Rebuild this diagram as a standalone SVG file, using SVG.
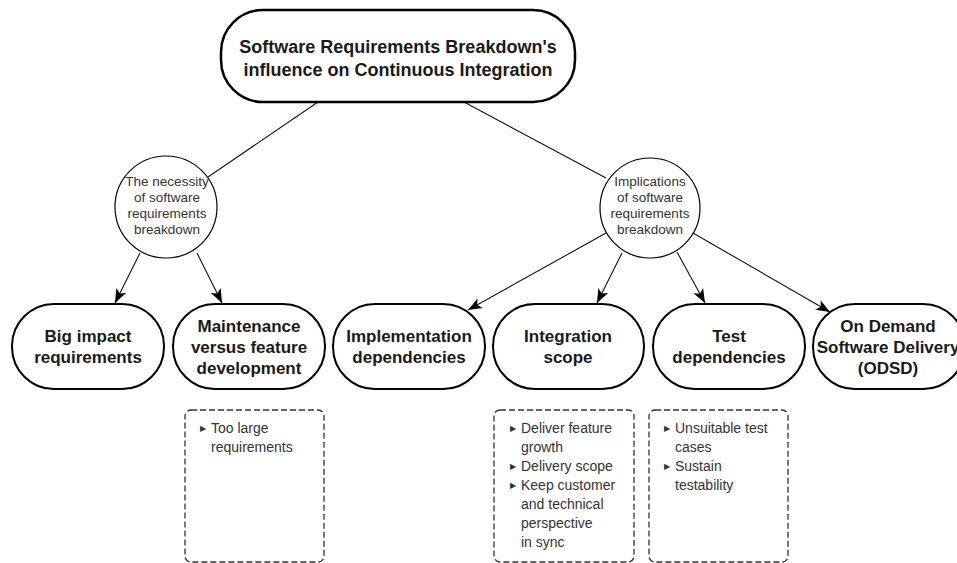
<svg xmlns="http://www.w3.org/2000/svg" width="957" height="563" viewBox="0 0 957 563">
<defs>
<style>
.root{fill:#fff;stroke:#000;stroke-width:2.5}
.node{fill:#fff;stroke:#000;stroke-width:2}
.circ{fill:#fff;stroke:#000;stroke-width:1.2}
.note{fill:#fff;stroke:#333;stroke-width:1.3;stroke-dasharray:6 3}
.edge{fill:none;stroke:#111;stroke-width:1.1}
.tt{font-family:"Liberation Sans",Arial,sans-serif;font-weight:bold;font-size:18px;fill:#1a1a1a;text-anchor:middle}
.nt{font-family:"Liberation Sans",Arial,sans-serif;font-weight:bold;font-size:17px;fill:#1a1a1a;text-anchor:middle}
.ct{font-family:"Liberation Sans",Arial,sans-serif;font-size:13.5px;fill:#333;text-anchor:middle}
.lt{font-family:"Liberation Sans",Arial,sans-serif;font-size:14px;fill:#333}
.bu{font-family:"DejaVu Sans",sans-serif;font-size:8px;fill:#333}
</style>
<marker id="arr" markerUnits="userSpaceOnUse" markerWidth="15" markerHeight="12" refX="14" refY="5.5" orient="auto" overflow="visible">
<path d="M0,0 L14,5.5 L0,11 L3.5,5.5 Z" fill="#000"/>
</marker>
</defs>
<rect width="957" height="563" fill="#fff"/>
<g id="connectors">
<line class="edge" x1="318" y1="102" x2="208" y2="177"/>
<line class="edge" x1="464" y1="102" x2="606" y2="178"/>
<line class="edge" x1="140" y1="253" x2="115" y2="303" marker-end="url(#arr)"/>
<line class="edge" x1="197" y1="253" x2="222" y2="303" marker-end="url(#arr)"/>
<line class="edge" x1="606" y1="233" x2="468" y2="310" marker-end="url(#arr)"/>
<line class="edge" x1="622" y1="253" x2="597" y2="303" marker-end="url(#arr)"/>
<line class="edge" x1="677" y1="252" x2="705" y2="303" marker-end="url(#arr)"/>
<line class="edge" x1="693" y1="233" x2="830" y2="312" marker-end="url(#arr)"/>
</g>
<g id="root">
<rect class="root" x="221" y="10" width="354" height="92" rx="42" ry="42"/>
<text class="tt" x="398" y="53">Software Requirements Breakdown's</text>
<text class="tt" x="398" y="76">influence on Continuous Integration</text>
</g>
<g id="necessity">
<circle class="circ" cx="166" cy="207" r="51"/>
<text class="ct" x="167" y="186">The necessity</text>
<text class="ct" x="167" y="202">of software</text>
<text class="ct" x="167" y="218">requirements</text>
<text class="ct" x="167" y="234">breakdown</text>
</g>
<g id="implications">
<circle class="circ" cx="650" cy="208" r="50"/>
<text class="ct" x="650" y="186">Implications</text>
<text class="ct" x="650" y="202">of software</text>
<text class="ct" x="650" y="218">requirements</text>
<text class="ct" x="650" y="234">breakdown</text>
</g>
<g id="big-impact">
<rect class="node" x="12" y="304" width="152" height="85" rx="42" ry="42"/>
<text class="nt" x="88" y="342">Big impact</text>
<text class="nt" x="88" y="363">requirements</text>
</g>
<g id="maintenance">
<rect class="node" x="173" y="304" width="152" height="85" rx="42" ry="42"/>
<text class="nt" x="249" y="332">Maintenance</text>
<text class="nt" x="249" y="353">versus feature</text>
<text class="nt" x="249" y="374">development</text>
</g>
<g id="implementation">
<rect class="node" x="333" y="304" width="152" height="85" rx="42" ry="42"/>
<text class="nt" x="409" y="342">Implementation</text>
<text class="nt" x="409" y="363">dependencies</text>
</g>
<g id="integration">
<rect class="node" x="493" y="304" width="151" height="85" rx="42" ry="42"/>
<text class="nt" x="568" y="342">Integration</text>
<text class="nt" x="568" y="363">scope</text>
</g>
<g id="test">
<rect class="node" x="653" y="304" width="152" height="85" rx="42" ry="42"/>
<text class="nt" x="729" y="342">Test</text>
<text class="nt" x="729" y="363">dependencies</text>
</g>
<g id="odsd">
<rect class="node" x="813" y="304" width="152" height="85" rx="42" ry="42"/>
<text class="nt" x="888" y="332">On Demand</text>
<text class="nt" x="888" y="353">Software Delivery</text>
<text class="nt" x="888" y="374">(ODSD)</text>
</g>
<g id="note-maintenance">
<rect class="note" x="185" y="410" width="139" height="152" rx="6" ry="6"/>
<text class="bu" x="200" y="431">▶</text>
<text class="lt" x="211" y="433">Too large</text>
<text class="lt" x="211" y="452">requirements</text>
</g>
<g id="note-integration">
<rect class="note" x="494" y="410" width="140" height="152" rx="6" ry="6"/>
<text class="bu" x="510" y="431">▶</text>
<text class="lt" x="521" y="433">Deliver feature</text>
<text class="lt" x="521" y="452">growth</text>
<text class="bu" x="510" y="469">▶</text>
<text class="lt" x="521" y="471">Delivery scope</text>
<text class="bu" x="510" y="488">▶</text>
<text class="lt" x="521" y="490">Keep customer</text>
<text class="lt" x="521" y="509">and technical</text>
<text class="lt" x="521" y="528">perspective</text>
<text class="lt" x="521" y="547">in sync</text>
</g>
<g id="note-test">
<rect class="note" x="649" y="410" width="139" height="152" rx="6" ry="6"/>
<text class="bu" x="664" y="431">▶</text>
<text class="lt" x="675" y="433">Unsuitable test</text>
<text class="lt" x="675" y="452">cases</text>
<text class="bu" x="664" y="469">▶</text>
<text class="lt" x="675" y="471">Sustain</text>
<text class="lt" x="675" y="490">testability</text>
</g>
</svg>
